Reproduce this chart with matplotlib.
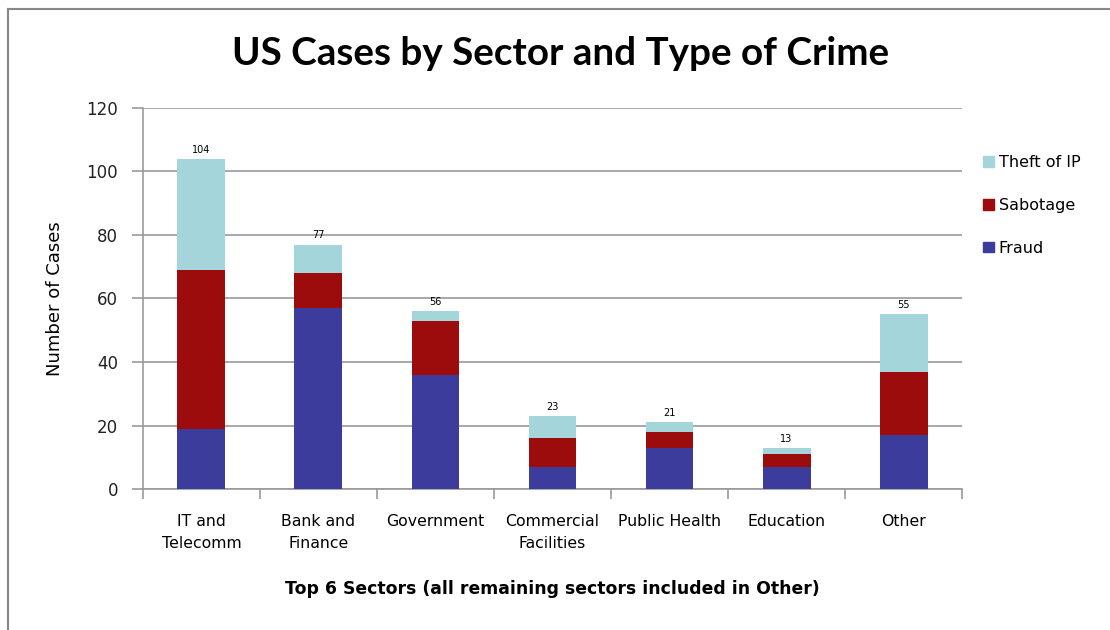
import matplotlib.pyplot as plt
from matplotlib.patches import Patch
import numpy as np

sectors = ["IT and\nTelecomm", "Bank and\nFinance", "Government", "Commercial\nFacilities",
           "Public Health", "Education", "Other"]
fraud = [19, 57, 36, 7, 13, 7, 17]
sabotage = [50, 11, 17, 9, 5, 4, 20]
theft_ip = [35, 9, 3, 7, 3, 2, 18]
totals = [104, 77, 56, 23, 21, 13, 55]

c_fraud = "#3c3c9c"
c_sab = "#9c0c0c"
c_theft = "#a3d5da"
grid_c = "#9a9a9a"

plt.rcParams["font.family"] = ["DejaVu Sans"]

fig = plt.figure(figsize=(11.1, 6.3), dpi=100)
ax = fig.add_axes([0.1288, 0.2238, 0.7379, 0.6048])

x = np.arange(len(sectors))
w = 0.41
f_arr = np.array(fraud)
s_arr = np.array(sabotage)
ax.bar(x, fraud, w, color=c_fraud, zorder=3)
ax.bar(x, sabotage, w, bottom=f_arr, color=c_sab, zorder=3)
ax.bar(x, theft_ip, w, bottom=f_arr + s_arr, color=c_theft, zorder=3)

for xi, t in zip(x, totals):
    ax.text(xi, t + 1.3, str(t), ha="center", va="bottom", fontsize=7)

ax.set_xlim(-0.5, len(sectors) - 0.5)
ax.set_ylim(0, 120)
ax.set_yticks(range(0, 121, 20))
ax.yaxis.grid(True, color=grid_c, linewidth=1.2, zorder=0)
ax.set_axisbelow(True)

ax.set_xticks(x)
ax.set_xticklabels(sectors, fontsize=11.3, linespacing=1.6)
ax.tick_params(axis="x", length=0, pad=18)
ax.set_xticks(np.arange(-0.5, len(sectors)), minor=True)
ax.tick_params(axis="x", which="minor", length=7, color=grid_c, width=1.2, direction="out")
ax.tick_params(axis="y", length=8, color=grid_c, width=1.2, labelsize=12, pad=10,
               labelcolor="#222222")

for side in ["top", "right"]:
    ax.spines[side].set_visible(False)
ax.spines["left"].set_color(grid_c)
ax.spines["bottom"].set_color(grid_c)
ax.spines["left"].set_linewidth(1.2)
ax.spines["bottom"].set_linewidth(1.2)

ax.set_ylabel("Number of Cases", fontsize=13, labelpad=16)
ax.set_xlabel("Top 6 Sectors (all remaining sectors included in Other)",
              fontsize=12.4, fontweight="bold", labelpad=21)

fig.text(0.505, 0.915, "US Cases by Sector and Type of Crime", ha="center", va="center",
         fontsize=27.8, family="Lato", fontweight="bold")

handles = [Patch(color=c_theft), Patch(color=c_sab), Patch(color=c_fraud)]
fig.legend(handles, ["Theft of IP", "Sabotage", "Fraud"], loc="upper left",
           bbox_to_anchor=(0.873, 0.777), frameon=False,
           handlelength=0.65, handleheight=0.65, handletextpad=0.3,
           labelspacing=1.75, prop={"size": 11.5})

# chart frame
fig.add_artist(plt.Line2D([0.007, 0.007], [0, 0.986], color="#888888", linewidth=1.5))
fig.add_artist(plt.Line2D([0.007, 1.0], [0.986, 0.986], color="#888888", linewidth=1.5))

fig.savefig("out.png", dpi=100)
